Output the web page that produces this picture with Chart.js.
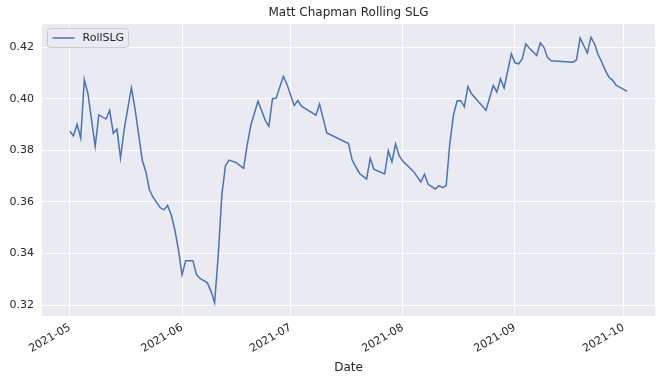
<!DOCTYPE html>
<html>
<head>
<meta charset="utf-8">
<script src="https://cdn.jsdelivr.net/npm/chart.js@4.4.0/dist/chart.umd.min.js"></script>
<style>
  body { margin: 0; background: #fff; }
  #wrap { width: 662px; height: 382px; }
</style>
</head>
<body>
<div id="wrap"><canvas id="slgChart" width="662" height="382"></canvas></div>
<script>
// Rolling SLG per game date
const dates = [
  '2021-05-01','2021-05-02','2021-05-03','2021-05-04','2021-05-05','2021-05-06','2021-05-08','2021-05-09',
  '2021-05-11','2021-05-12','2021-05-13','2021-05-14','2021-05-15','2021-05-16','2021-05-18','2021-05-19',
  '2021-05-21','2021-05-22','2021-05-23','2021-05-24','2021-05-25','2021-05-26','2021-05-27','2021-05-28',
  '2021-05-29','2021-05-30','2021-05-31','2021-06-01','2021-06-02','2021-06-03','2021-06-04','2021-06-05',
  '2021-06-06','2021-06-08','2021-06-09','2021-06-10','2021-06-11','2021-06-12','2021-06-13','2021-06-14',
  '2021-06-16','2021-06-18','2021-06-19','2021-06-20','2021-06-22','2021-06-24','2021-06-25','2021-06-26',
  '2021-06-27','2021-06-29','2021-06-30','2021-07-02','2021-07-03','2021-07-04','2021-07-08','2021-07-09',
  '2021-07-11','2021-07-17','2021-07-18','2021-07-20','2021-07-22','2021-07-23','2021-07-24','2021-07-27',
  '2021-07-28','2021-07-29','2021-07-30','2021-07-31','2021-08-01','2021-08-04','2021-08-06','2021-08-07',
  '2021-08-08','2021-08-10','2021-08-11','2021-08-12','2021-08-13','2021-08-14','2021-08-15','2021-08-16',
  '2021-08-17','2021-08-18','2021-08-19','2021-08-20','2021-08-24','2021-08-26','2021-08-27','2021-08-28',
  '2021-08-29','2021-08-31','2021-09-01','2021-09-02','2021-09-03','2021-09-04','2021-09-05','2021-09-07',
  '2021-09-08','2021-09-09','2021-09-10','2021-09-11','2021-09-17','2021-09-18','2021-09-19','2021-09-21',
  '2021-09-22','2021-09-23','2021-09-24','2021-09-25','2021-09-26','2021-09-27','2021-09-28','2021-09-29',
  '2021-09-30','2021-10-02'
];
const rollSLG = [
  0.3874,0.3856,0.3901,0.3847,0.4074,0.4019,0.3815,0.3937,
  0.3921,0.3954,0.3866,0.3882,0.3770,0.3880,0.4042,0.3961,
  0.3762,0.3717,0.3646,0.3618,0.3597,0.3577,0.3569,0.3586,
  0.3550,0.3492,0.3415,0.3318,0.3372,0.3372,0.3372,0.3318,
  0.3303,0.3286,0.3254,0.3209,0.3392,0.3627,0.3740,0.3762,
  0.3752,0.3730,0.3820,0.3897,0.3991,0.3916,0.3893,0.4000,
  0.4002,0.4087,0.4055,0.3974,0.3993,0.3971,0.3936,0.3979,
  0.3867,0.3826,0.3762,0.3711,0.3688,0.3769,0.3727,0.3708,
  0.3798,0.3755,0.3824,0.3779,0.3758,0.3717,0.3677,0.3707,
  0.3668,0.3650,0.3663,0.3655,0.3663,0.3826,0.3936,0.3991,
  0.3993,0.3968,0.4047,0.4019,0.3955,0.4051,0.4026,0.4077,
  0.4042,0.4174,0.4139,0.4135,0.4154,0.4212,0.4195,0.4167,
  0.4216,0.4199,0.4160,0.4147,0.4141,0.4150,0.4235,0.4177,
  0.4238,0.4212,0.4170,0.4141,0.4109,0.4083,0.4071,0.4051,
  0.4044,0.4028
];
const monthTicks = ['2021-05','2021-06','2021-07','2021-08','2021-09','2021-10'];
const yTicks = [0.32, 0.34, 0.36, 0.38, 0.40, 0.42];
const seriesName = 'RollSLG';
const chartTitle = 'Matt Chapman Rolling SLG';

function toMs(s) {
  const p = s.split('-').map(Number);
  return Date.UTC(p[0], p[1] - 1, p[2] || 1);
}
function fmtMonth(ms) {
  const d = new Date(ms);
  return d.getUTCFullYear() + '-' + String(d.getUTCMonth() + 1).padStart(2, '0');
}

const xs = dates.map(toMs);
const points = xs.map((x, i) => ({ x: x, y: rollSLG[i] }));

// matplotlib style 5% margins
const xMin = Math.min(...xs), xMax = Math.max(...xs);
const yMin = Math.min(...rollSLG), yMax = Math.max(...rollSLG);
const xPad = (xMax - xMin) * 0.05, yPad = (yMax - yMin) * 0.05;

const textColor = '#262626';
const font = 'DejaVu Sans';

// background, title and legend drawn like seaborn darkgrid
const seabornPlugin = {
  id: 'seabornLook',
  beforeDraw(chart) {
    const { ctx, chartArea: a } = chart;
    ctx.save();
    ctx.fillStyle = '#EAEAF2';
    ctx.fillRect(a.left, a.top, a.right - a.left, a.bottom - a.top);
    ctx.restore();
  },
  afterDraw(chart) {
    const { ctx, chartArea: a } = chart;
    ctx.save();
    // title
    ctx.fillStyle = textColor;
    ctx.font = '12px "' + font + '"';
    ctx.textAlign = 'center';
    ctx.textBaseline = 'middle';
    ctx.fillText(chartTitle, (a.left + a.right) / 2, 13);
    // legend box
    const bx = a.left + 5.5, by = a.top + 4.5, bw = 81, bh = 19;
    ctx.beginPath();
    ctx.roundRect(bx, by, bw, bh, 3);
    ctx.fillStyle = 'rgba(234,234,242,0.8)';
    ctx.fill();
    ctx.strokeStyle = '#CCCCCC';
    ctx.lineWidth = 1;
    ctx.stroke();
    ctx.beginPath();
    ctx.moveTo(bx + 5, by + bh / 2);
    ctx.lineTo(bx + 27, by + bh / 2);
    ctx.strokeStyle = '#4C72B0';
    ctx.lineWidth = 1.5;
    ctx.stroke();
    ctx.fillStyle = textColor;
    ctx.font = '11px "' + font + '"';
    ctx.textAlign = 'left';
    ctx.fillText(seriesName, bx + 35, by + bh / 2 + 0.5);
    ctx.restore();
  }
};

new Chart(document.getElementById('slgChart'), {
  type: 'line',
  data: {
    datasets: [{
      label: seriesName,
      data: points,
      borderColor: '#4C72B0',
      borderWidth: 1.5,
      pointRadius: 0,
      tension: 0,
      fill: false
    }]
  },
  options: {
    responsive: false,
    animation: false,
    layout: { padding: { top: 24, right: 7, left: 0, bottom: 0 } },
    plugins: {
      legend: { display: false },
      title: { display: false },
      tooltip: { enabled: false }
    },
    scales: {
      x: {
        type: 'linear',
        min: xMin - xPad,
        max: xMax + xPad,
        border: { display: false },
        grid: { color: '#FFFFFF', lineWidth: 1, drawTicks: false },
        afterBuildTicks(scale) {
          scale.ticks = monthTicks.map(m => ({ value: toMs(m) }));
        },
        afterFit(scale) { scale.height = 66; },
        ticks: {
          autoSkip: false,
          minRotation: 30,
          maxRotation: 30,
          padding: 5,
          color: textColor,
          font: { family: font, size: 11 },
          callback: (v) => fmtMonth(v)
        },
        title: {
          display: true,
          text: 'Date',
          color: textColor,
          font: { family: font, size: 12 },
          padding: { top: 4, bottom: 7 }
        }
      },
      y: {
        type: 'linear',
        min: yMin - yPad,
        max: yMax + yPad,
        border: { display: false },
        grid: { color: '#FFFFFF', lineWidth: 1, drawTicks: false },
        afterBuildTicks(scale) {
          scale.ticks = yTicks.map(v => ({ value: v }));
        },
        afterFit(scale) { scale.width = 42; },
        ticks: {
          padding: 8,
          color: textColor,
          font: { family: font, size: 11 },
          callback: (v) => v.toFixed(2)
        }
      }
    }
  },
  plugins: [seabornPlugin]
});
</script>
</body>
</html>
